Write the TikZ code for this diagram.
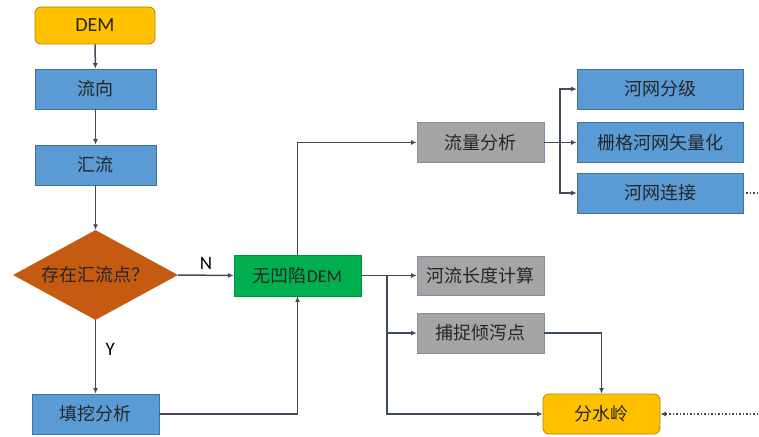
\documentclass[tikz,border=0pt]{standalone}
\usepackage{fontspec}
\setmainfont{Carlito}
\newfontfamily\cjk{Noto Sans CJK SC}
\usetikzlibrary{shapes.geometric,arrows.meta,positioning}
\definecolor{boxblue}{HTML}{5B9BD5}
\definecolor{edgeblue}{HTML}{41719C}
\definecolor{boxgray}{HTML}{A5A5A5}
\definecolor{edgegray}{HTML}{7F8FA6}
\definecolor{boxgreen}{HTML}{00B050}
\definecolor{boxorange}{HTML}{C55A11}
\definecolor{boxyellow}{HTML}{FFC000}
\definecolor{linec}{HTML}{404A5A}

\begin{document}
\begin{tikzpicture}[x=1pt,y=-1pt,
  proc/.style={rectangle,draw=edgeblue,line width=0.8pt,fill=boxblue,minimum width=121pt,minimum height=40pt,
    inner sep=0pt,font=\fontsize{18}{20}\selectfont\cjk,text=black!85},
  ana/.style={proc,fill=boxgray,draw=edgegray,minimum width=127pt},
  term/.style={proc,fill=boxyellow,draw=boxyellow!70!black,rounded corners=6pt},
  decide/.style={diamond,aspect=1.83,fill=boxorange,draw=none,minimum width=165pt,minimum height=90pt,inner sep=0pt,
    font=\fontsize{18}{20}\selectfont\cjk,text=black!85},
  arr/.style={draw=linec,line width=1.5pt,-{Latex[length=5.5pt,width=5pt]}},
  lin/.style={draw=linec,line width=1.5pt},
  yn/.style={font=\fontsize{19}{21}\selectfont,text=black}
]
  \useasboundingbox (0,0) rectangle (759,436);

  % left column
  \node[term,minimum width=120pt,minimum height=37pt,font=\fontsize{20}{22}\selectfont] (dem) at (95,25.5) {DEM};
  \node[proc] (dir)  at (95.5,89)  {流向};
  \node[proc] (acc)  at (95.5,165) {汇流};
  \node[decide] (sink) at (95.5,275) {存在汇流点？};
  \node[proc,minimum width=127pt] (fill) at (95.5,414) {填挖分析};
  \node[proc,fill=boxgreen,draw=boxgreen!80!black,minimum width=127pt,minimum height=41pt] (nodep) at (297.5,275.5)
    {无凹陷\fontspec{Carlito}DEM};

  % analysis
  \node[ana] (flow) at (480.5,142.5) {流量分析};
  \node[proc,minimum width=166pt] (grade) at (660,89)    {河网分级};
  \node[proc,minimum width=166pt] (vec)   at (660,142.5) {栅格河网矢量化};
  \node[proc,minimum width=166pt] (link)  at (660,193)   {河网连接};
  \node[ana,minimum height=39pt] (len)  at (480.5,275.5) {河流长度计算};
  \node[ana] (pour) at (480.5,333) {捕捉倾泻点};
  \node[term,minimum width=117pt] (ridge) at (601.5,414) {分水岭};

  \coordinate (fb)  at (560,142.5);
  \coordinate (db)  at (387,275.5);
  \coordinate (lnk) at (758,193);
  \coordinate (rin) at (758,414);

  \draw[arr] (dem) -- (dir);
  \draw[arr] (dir) -- (acc);
  \draw[arr] (acc) -- (sink);
  \draw[arr] (sink.east) -- node[yn,above=2pt]{N} (nodep.west);
  \draw[arr] (sink.south) -- node[yn,right=6pt,pos=0.4]{Y} (fill.north);
  \draw[arr] (fill.east) -| (nodep.south);
  \draw[arr] (nodep.north) |- (flow.west);

  \draw[arr] (flow.east) -- (vec.west);
  \draw[arr] (fb) |- (grade.west);
  \draw[arr] (fb) |- (link.west);
  \draw[lin,dotted,shorten <=3pt] (link.east) -- (lnk);

  \draw[arr] (nodep.east) -- (len.west);
  \draw[arr] (db) |- (pour.west);
  \draw[arr] (db) |- (ridge.west);
  \draw[arr] (pour.east) -| (ridge.north);
  \draw[arr,dotted] (rin) -- (ridge.east);
\end{tikzpicture}
\end{document}
